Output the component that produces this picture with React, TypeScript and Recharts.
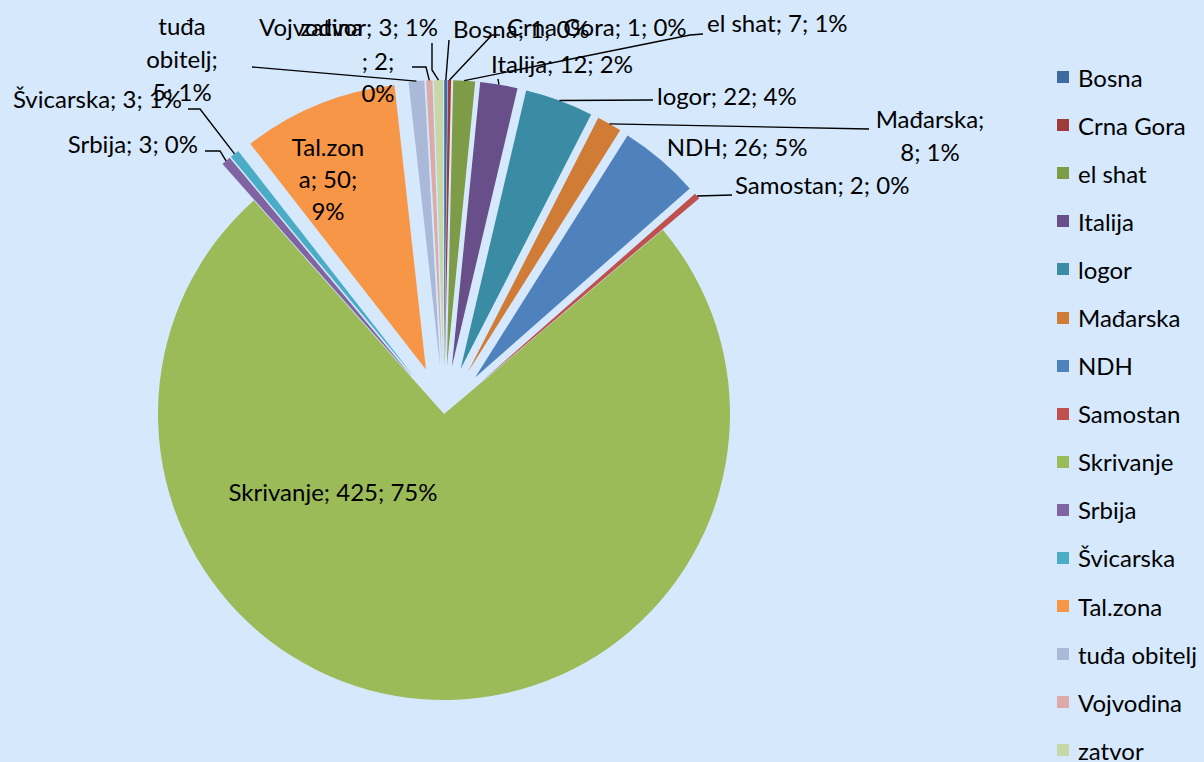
import { PieChart, Pie, Cell, Legend, Tooltip, Sector } from 'recharts';

const regions = [
  'Bosna', 'Crna Gora', 'el shat', 'Italija', 'logor', 'Mađarska', 'NDH', 'Samostan',
  'Skrivanje', 'Srbija', 'Švicarska', 'Tal.zona', 'tuđa obitelj', 'Vojvodina', 'zatvor',
];
const counts = [1, 1, 7, 12, 22, 8, 26, 2, 425, 3, 3, 50, 5, 2, 3];
// percentages as printed on the chart (Excel rounds them so they add up to 100)
const shares = [0, 0, 1, 2, 4, 1, 5, 0, 75, 0, 1, 9, 1, 0, 1];
const colors = [
  '#3e6aa2', '#9d3c39', '#7e9b48', '#694f89', '#3a8ca4', '#d07c37', '#4f81bd', '#c0504d',
  '#9bbb59', '#8064a2', '#4bacc6', '#f79646', '#a9b9d7', '#dcaaa9', '#c7d7a8',
];

const data = regions.map((name, i) => ({ name, value: counts[i], share: shares[i] }));

const BG = '#d5e8fc';
const FONT = 'Lato, sans-serif';
const FONT_SIZE = 24;
const EXPLODE = 48;
const RAD = Math.PI / 180;

type Pt = [number, number];
type LabelLayout = {
  anchor: 'start' | 'middle' | 'end';
  cuts?: number[];
  at: Pt[];
  anchors?: ('start' | 'middle' | 'end')[];
  leader?: Pt[];
};

// label placement relative to the pie centre, copied from the Excel layout
const labelLayout: Record<string, LabelLayout> = {
  'Bosna': { anchor: 'start', at: [[9, -384]], leader: [[5, -374]] },
  'Crna Gora': { anchor: 'start', at: [[63, -386]], leader: [[48, -379], [56, -379]] },
  'el shat': { anchor: 'start', at: [[263, -390]], leader: [[246, -379], [259, -380]] },
  'Italija': { anchor: 'middle', at: [[118, -349]], leader: [[54, -335]] },
  'logor': { anchor: 'start', at: [[213, -317]], leader: [[209, -314]] },
  'Mađarska': { anchor: 'middle', cuts: [9], at: [[486, -294], [486, -261]], leader: [[425, -285]] },
  'NDH': { anchor: 'middle', at: [[293, -266]] },
  'Samostan': { anchor: 'start', at: [[291, -228]], leader: [[288, -219]] },
  'Skrivanje': { anchor: 'middle', at: [[-111, 79]] },
  'Srbija': { anchor: 'end', at: [[-246, -269]], leader: [[-224, -263], [-239, -263]] },
  'Švicarska': { anchor: 'end', at: [[-262, -314]], leader: [[-244, -305], [-256, -305]] },
  'Tal.zona': { anchor: 'middle', cuts: [7, 14], at: [[-116, -266], [-116, -234], [-116, -202]] },
  'tuđa obitelj': {
    anchor: 'middle', cuts: [4, 13],
    at: [[-262, -387], [-262, -354], [-262, -321]], leader: [[-192, -347]],
  },
  'Vojvodina': {
    anchor: 'middle', cuts: [9, 13], anchors: ['start', 'middle', 'middle'],
    at: [[-185, -386], [-66, -352], [-66, -320]], leader: [[-18, -347], [-32, -347]],
  },
  'zatvor': { anchor: 'end', at: [[-6, -386]], leader: [[-12, -344], [-12, -371]] },
};

const polar = (cx: number, cy: number, r: number, angle: number) => ({
  x: cx + r * Math.cos(-angle * RAD),
  y: cy + r * Math.sin(-angle * RAD),
});

const explodeOf = (name: string) => (name === 'Skrivanje' ? 0 : EXPLODE);

const ExplodedSector = (props: any) => {
  const name = props.payload?.name ?? props.name;
  const p = polar(props.cx, props.cy, explodeOf(name), props.midAngle);
  return <Sector {...props} cx={p.x} cy={p.y} stroke="none" />;
};

const splitText = (text: string, cuts: number[] = []) => {
  const parts: string[] = [];
  let from = 0;
  cuts.forEach((c) => {
    parts.push(text.slice(from, c).trim());
    from = c;
  });
  parts.push(text.slice(from).trim());
  return parts;
};

const renderLabel = (props: any) => {
  const { cx, cy, midAngle, outerRadius, index } = props;
  const item = data[index];
  const lay = labelLayout[item.name];
  if (!lay) return null;
  const lines = splitText(`${item.name}; ${item.value}; ${item.share}%`, lay.cuts);
  const edge = polar(cx, cy, outerRadius + explodeOf(item.name), midAngle);
  const pts = lay.leader
    ? [[edge.x, edge.y], ...lay.leader.map(([dx, dy]) => [cx + dx, cy + dy])]
    : null;
  return (
    <g key={`lbl-${item.name}`}>
      {pts && (
        <polyline
          points={pts.map((p) => p.join(',')).join(' ')}
          fill="none"
          stroke="#000"
          strokeWidth={1.4}
        />
      )}
      {lines.map((ln, i) => (
        <text
          key={i}
          x={cx + lay.at[i][0]}
          y={cy + lay.at[i][1]}
          dy="0.35em"
          textAnchor={lay.anchors ? lay.anchors[i] : lay.anchor}
          fontFamily={FONT}
          fontSize={FONT_SIZE}
          fill="#000"
        >
          {ln}
        </text>
      ))}
    </g>
  );
};

const LegendList = () => (
  <div style={{ fontFamily: FONT, fontSize: FONT_SIZE, color: '#000' }}>
    {data.map((d, i) => (
      <div key={d.name} style={{ height: 48.1, display: 'flex', alignItems: 'center' }}>
        <span style={{ width: 12, height: 12, background: colors[i], marginRight: 9, flex: 'none' }} />
        <span style={{ whiteSpace: 'nowrap' }}>{d.name}</span>
      </div>
    ))}
  </div>
);

export default function App() {
  return (
    <div style={{ position: 'absolute', left: 0, top: 0, width: 1204, height: 762, background: BG }}>
      <PieChart width={1204} height={762} margin={{ top: 0, right: 0, bottom: 0, left: 0 }}>
        <Pie
          data={data}
          dataKey="value"
          nameKey="name"
          cx={444}
          cy={414}
          outerRadius={286}
          startAngle={90}
          endAngle={-270}
          stroke="none"
          isAnimationActive={false}
          label={renderLabel}
          labelLine={false}
          shape={ExplodedSector}
          activeShape={ExplodedSector}
          inactiveShape={ExplodedSector}
        >
          {data.map((d, i) => (
            <Cell key={d.name} fill={colors[i]} />
          ))}
        </Pie>
        <Tooltip defaultIndex={0} content={() => null} cursor={false} />
        <Legend
          content={LegendList}
          layout="vertical"
          verticalAlign="top"
          align="right"
          wrapperStyle={{ left: 1057, top: 53, right: 'auto', width: 147 }}
        />
      </PieChart>
    </div>
  );
}
